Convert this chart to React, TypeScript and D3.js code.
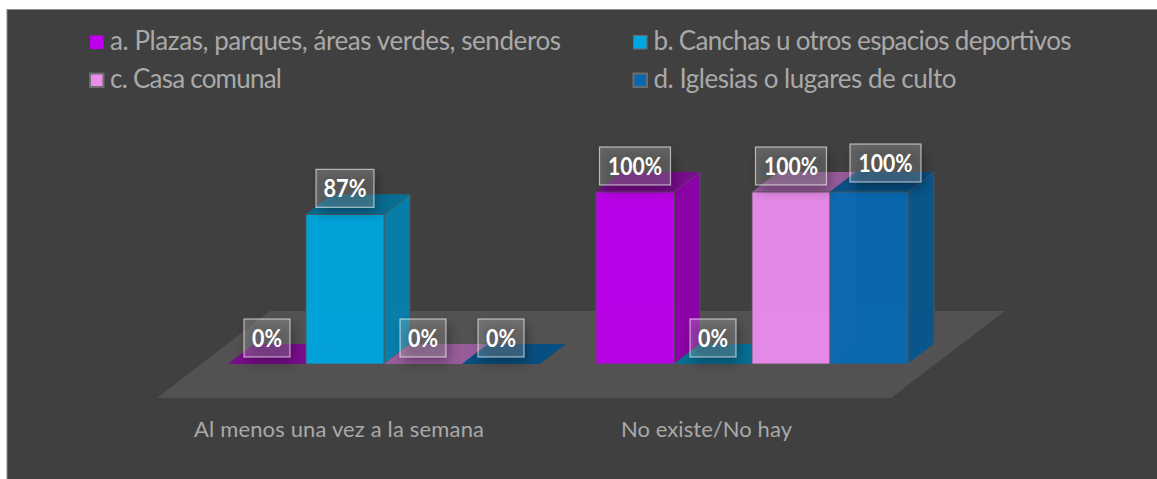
import React from "react";
import * as d3 from "d3";

const categories = ["Al menos una vez a la semana", "No existe/No hay"];
const seriesNames = [
  "a. Plazas, parques, áreas verdes, senderos",
  "b. Canchas u otros espacios deportivos",
  "c. Casa comunal",
  "d. Iglesias o lugares de culto",
];
const seriesA = [0, 1];
const seriesB = [0.87, 0];
const seriesC = [0, 1];
const seriesD = [0, 1];
const valuesBySeries = [seriesA, seriesB, seriesC, seriesD];
const frontColors = ["#be00ee", "#00a6e0", "#ea8cec", "#0869b2"];
const sideColors = ["#8f00ab", "#0580ad", "#b86cb9", "#07578f"];
const topColors = ["#7b0a8f", "#056f97", "#9a5e9e", "#054f83"];

const W = 1157;
const H = 479;
const BASE = 364;
const DX = 26;
const DY = -20;

const x0 = d3.scaleBand<string>().domain(categories).range([228, 908]).paddingInner(56 / 368);
const x1 = d3.scaleBand<string>().domain(seriesNames).range([0, x0.bandwidth()]);
const y = d3.scaleLinear().domain([0, 1]).range([BASE, 192]);
const pct = d3.format(".0%");
const line = d3.line();
const poly = (pts: [number, number][]) => line(pts) + "Z";

const legendX = [110, 653.5];
const legendMarkX = [90, 633.5];
const legendY = [42, 80];

export default function App() {
  const font = "Lato, 'Open Sans', sans-serif";
  const bw = x1.bandwidth();
  return (
    <svg width={W} height={H} style={{ position: "absolute", left: 0, top: 0 }}>
      <defs>
        <filter id="sh" x="-50%" y="-50%" width="200%" height="200%">
          <feGaussianBlur stdDeviation="6" />
        </filter>
      </defs>
      <rect x={0} y={0} width={W} height={H} fill="#ffffff" />
      <rect x={7} y={9.5} width={W} height={H} fill="#404040" stroke="#8c8c8c" strokeWidth={1} />
      <path d={poly([[157, 398], [891, 398], [1005, 311], [270, 311]])} fill="#535151" />
      {seriesNames.map((s, si) => (
        <rect
          key={s}
          x={legendMarkX[si % 2]}
          y={legendY[Math.floor(si / 2)] - 6.5}
          width={13.5}
          height={13.5}
          fill={frontColors[si]}
          stroke={si === 0 ? "none" : "#6c6c6c"}
          strokeWidth={si < 2 ? 1 : 2}
        />
      ))}
      {seriesNames.map((s, si) => (
        <text
          key={s}
          x={legendX[si % 2]}
          y={legendY[Math.floor(si / 2)] + 8}
          fontFamily={font}
          fontSize={26}
          fill="#a9a9a9"
          textLength={[451, 418, 172, 303][si]}
          lengthAdjust="spacing"
        >
          {s}
        </text>
      ))}
      {categories.map((c, ci) =>
        seriesNames.map((s, si) => {
          const v = valuesBySeries[si][ci];
          const xl = x0(c)! + x1(s)!;
          const xr = xl + bw;
          const t = y(v);
          return (
            <g key={c + s} opacity={0.96}>
              <path
                d={poly([[xl, t], [xr, t], [xr + DX, t + DY], [xl + DX, t + DY]])}
                fill={topColors[si]}
              />
              {v > 0 && (
                <>
                  <path
                    d={poly([[xr, BASE], [xr + DX, BASE + DY], [xr + DX, t + DY], [xr, t]])}
                    fill={sideColors[si]}
                    stroke="#555"
                    strokeWidth={0.8}
                  />
                  <rect
                    x={xl}
                    y={t}
                    width={bw}
                    height={BASE - t}
                    fill={frontColors[si]}
                    stroke="#555"
                    strokeWidth={0.8}
                  />
                </>
              )}
            </g>
          );
        })
      )}
      {categories.map((c, ci) =>
        seriesNames.map((s, si) => {
          const v = valuesBySeries[si][ci];
          const cx = x0(c)! + x1(s)! + bw / 2;
          const moved = ci === 1 && si === 3;
          const lx = cx + (moved ? 16.5 : 0);
          const bottom = y(v) - (moved ? 10 : 7);
          const label = pct(v);
          const boxW = label.length === 4 ? 71 : label === "87%" ? 58 : 46;
          return (
            <g key={c + s}>
              <rect
                x={lx - boxW / 2 + 3}
                y={bottom - 38 + 6}
                width={boxW}
                height={38}
                fill="#000"
                opacity={0.3}
                filter="url(#sh)"
              />
              <rect
                x={lx - boxW / 2}
                y={bottom - 38}
                width={boxW}
                height={38}
                fill="#ffffff"
                fillOpacity={0.2}
                stroke="#ffffff"
                strokeOpacity={0.6}
                strokeWidth={1.2}
              />
              <text
                x={lx}
                y={bottom - 10.5}
                textAnchor="middle"
                fontFamily={font}
                fontWeight={700}
                fontSize={24}
                fill="#ffffff"
                textLength={label.length === 4 ? 54 : label === "87%" ? 43 : 30}
                lengthAdjust="spacingAndGlyphs"
              >
                {label}
              </text>
            </g>
          );
        })
      )}
      {categories.map((c, i) => (
        <text
          key={c}
          x={[339, 706.5][i]}
          y={437}
          textAnchor="middle"
          fontFamily={font}
          fontSize={22}
          fill="#a9a9a9"
          textLength={[290, 171][i]}
          lengthAdjust="spacing"
        >
          {c}
        </text>
      ))}
    </svg>
  );
}
